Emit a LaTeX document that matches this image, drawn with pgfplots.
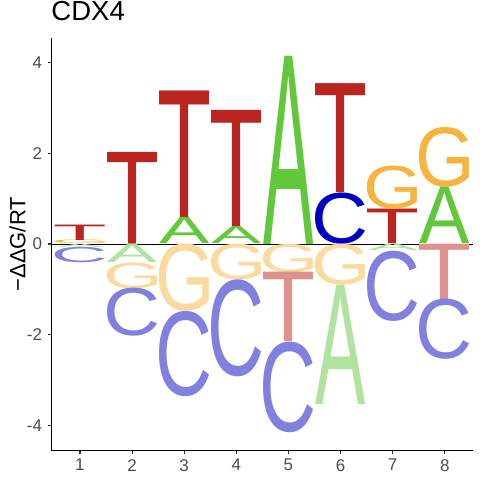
\documentclass[border=0pt]{standalone}
\usepackage{fontspec}
\setmainfont{Liberation Sans}
\usepackage{graphicx}
\usepackage{pgfplots}
\pgfplotsset{compat=1.18}

\definecolor{cA}{HTML}{61C83C}
\definecolor{cC}{HTML}{0000C0}
\definecolor{cG}{HTML}{F5B43F}
\definecolor{cT}{HTML}{BA251F}
\colorlet{lA}{cA!50!white}
\colorlet{lC}{cC!50!white}
\colorlet{lG}{cG!50!white}
\colorlet{lT}{cT!50!white}
\definecolor{gray20}{HTML}{333333}
\definecolor{gray30}{HTML}{4D4D4D}

\newdimen\ylen \ylen=45.33pt
\newdimen\lw \lw=50pt
\newcount\glyphid
\newcommand\trimglyph[1]{%
  \edef\tmpch{#1}%
  \glyphid=\XeTeXcharglyph\expandafter`\tmpch\relax
  \kern-\XeTeXglyphbounds1 \glyphid \tmpch\kern-\XeTeXglyphbounds3 \glyphid}
\newcommand\logoglyph[3]{\resizebox*{\lw}{#2\ylen}{\color{#3}\trimglyph{#1}}}

\begin{document}
\begin{tikzpicture}
\begin{axis}[
  scale only axis, width=421.7pt, height=413pt,
  xmin=0.45, xmax=8.54, ymin=-4.56, ymax=4.55,
  axis x line*=bottom, axis y line*=left,
  axis line style={line width=1.1pt, black},
  xtick={1,2,3,4,5,6,7,8}, ytick={-4,-2,0,2,4},
  tick align=outside, major tick length=3.7pt,
  tick style={line width=1.1pt, color=gray20},
  /pgf/number format/assume math mode=true,
  ticklabel style={font=\fontsize{17}{17}\selectfont, text=gray30},
  xticklabel style={anchor=north, inner sep=0pt, yshift=-4.6pt},
  yticklabel style={anchor=east, inner sep=0pt, xshift=-5.4pt},
  title={CDX4},
  title style={at={(axis description cs:0,1)}, anchor=base west, inner sep=0pt, yshift=11pt, font=\fontsize{27.5}{27.5}\selectfont},
  ylabel={−ΔΔG/RT},
  ylabel style={at={(axis description cs:-0.0612,0.5)}, anchor=base, inner sep=0pt, font=\fontsize{22}{22}\selectfont},
]
\addplot[scatter, only marks, mark=*, mark size=0pt, mark options={draw=none, fill=none},
  visualization depends on={value \thisrow{l}\as\lgl},
  visualization depends on={value \thisrow{h}\as\lgh},
  visualization depends on={value \thisrow{c}\as\lgc},
  scatter/@pre marker code/.code={\node[inner sep=0pt, outer sep=0pt, anchor=center] {\logoglyph{\lgl}{\lgh}{\lgc}};},
  scatter/@post marker code/.code={}
] table[x=x, y=y] {
x y h l c
1 0.04 0.08 G cG
1 0.25 0.34 T cT
1 -0.035 0.07 A lA
1 -0.24 0.34 C lC
2 1.015 2.03 T cT
2 -0.205 0.41 A lA
2 -0.695 0.57 G lG
2 -1.51 1.06 C lC
3 0.295 0.59 A cA
3 1.985 2.79 T cT
3 -0.745 1.49 G lG
3 -2.43 1.88 C lC
4 0.19 0.38 A cA
4 1.66 2.56 T cT
4 -0.395 0.79 G lG
4 -1.86 2.14 C lC
5 2.075 4.15 A cA
5 -0.315 0.63 G lG
5 -1.395 1.53 T lT
5 -3.16 2.00 C lC
6 0.565 1.13 C cC
6 2.33 2.40 T cT
6 -0.45 0.90 G lG
6 -2.215 2.63 A lA
7 0.38 0.76 T cT
7 1.235 0.95 G cG
7 -0.075 0.15 A lA
7 -0.925 1.55 C lC
8 0.625 1.25 A cA
8 1.91 1.32 G cG
8 -0.61 1.22 T lT
8 -1.885 1.33 C lC
};
\addplot[black, line width=0.9pt, forget plot] coordinates {(0.45,0) (8.54,0)};
\end{axis}
\pgfresetboundingbox
\path[use as bounding box] (-51.3pt,-29.3pt) rectangle (428.7pt,450.7pt);
\end{tikzpicture}
\end{document}
